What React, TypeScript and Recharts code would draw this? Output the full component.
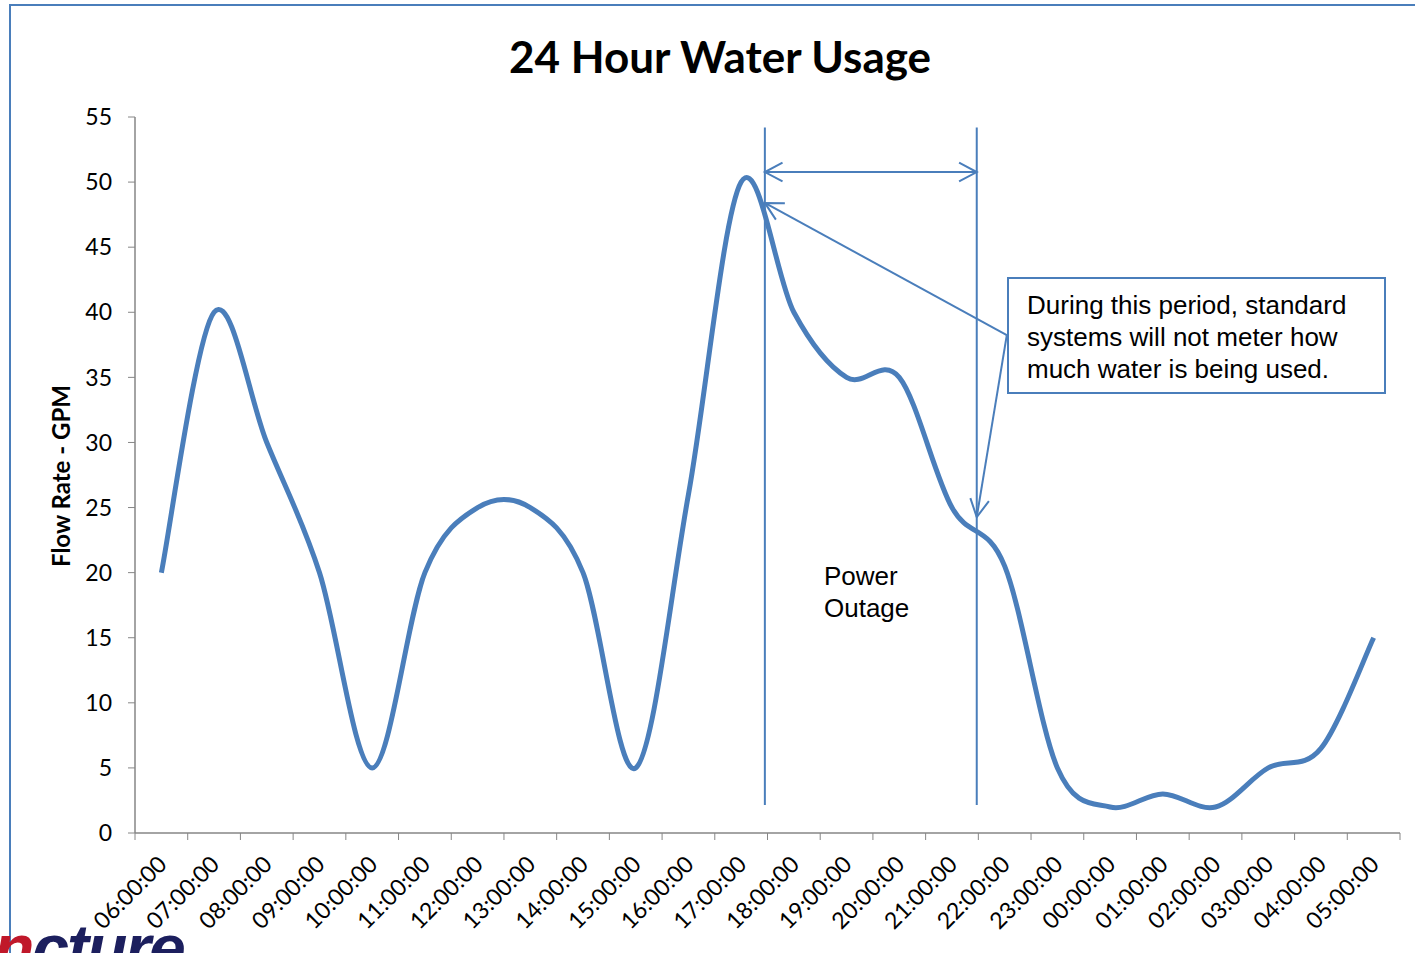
import React from 'react';
import { LineChart, Line, XAxis, YAxis, ReferenceLine } from 'recharts';

const HOURS = [
  '06:00:00', '07:00:00', '08:00:00', '09:00:00', '10:00:00', '11:00:00',
  '12:00:00', '13:00:00', '14:00:00', '15:00:00', '16:00:00', '17:00:00',
  '18:00:00', '19:00:00', '20:00:00', '21:00:00', '22:00:00', '23:00:00',
  '00:00:00', '01:00:00', '02:00:00', '03:00:00', '04:00:00', '05:00:00',
];
const FLOW = [20, 40, 30, 20, 5, 20, 25, 25, 20, 5, 26, 50, 40, 35, 35, 25, 20.5, 5, 2, 3, 2, 5, 6.5, 15];
const Y_TICKS = [0, 5, 10, 15, 20, 25, 30, 35, 40, 45, 50, 55];
const X_BOUNDARIES = Array.from({ length: 25 }, (_, i) => i);

const data = HOURS.map((h, i) => ({ x: i + 0.5, hour: h, flow: FLOW[i] }));

const BLUE = '#4a7ebb';
const AXIS_GRAY = '#868686';
const BAND = 1265 / 24;

// Excel-like smoothing (Catmull-Rom through the points)
function excelSmooth(context: any) {
  let pts: number[][] = [];
  return {
    areaStart() {},
    areaEnd() {},
    lineStart() { pts = []; },
    point(x: number, y: number) { pts.push([+x, +y]); },
    lineEnd() {
      const n = pts.length;
      if (!n) return;
      context.moveTo(pts[0][0], pts[0][1]);
      for (let i = 0; i < n - 1; i++) {
        const p0 = pts[Math.max(i - 1, 0)];
        const p1 = pts[i];
        const p2 = pts[i + 1];
        const p3 = pts[Math.min(i + 2, n - 1)];
        const c1x = p1[0] + (p2[0] - p0[0]) / 6;
        const c1y = p1[1] + (p2[1] - p0[1]) / 6;
        const c2x = p2[0] - (p3[0] - p1[0]) / 6;
        const c2y = p2[1] - (p3[1] - p1[1]) / 6;
        context.bezierCurveTo(c1x, c1y, c2x, c2y, p2[0], p2[1]);
      }
    },
  };
}

function head(px: number, py: number, fx: number, fy: number, key: string) {
  const dx = px - fx;
  const dy = py - fy;
  const len = Math.hypot(dx, dy) || 1;
  const ux = dx / len;
  const uy = dy / len;
  const L = 20;
  const a = (28 * Math.PI) / 180;
  const w1x = px - L * (ux * Math.cos(a) - uy * Math.sin(a));
  const w1y = py - L * (ux * Math.sin(a) + uy * Math.cos(a));
  const w2x = px - L * (ux * Math.cos(-a) - uy * Math.sin(-a));
  const w2y = py - L * (ux * Math.sin(-a) + uy * Math.cos(-a));
  return (
    <polyline key={key} points={`${w1x},${w1y} ${px},${py} ${w2x},${w2y}`} fill="none" stroke={BLUE} strokeWidth={2} />
  );
}

const arrowShape = (atStart: boolean, atEnd: boolean) => (p: any) => {
  const { x1, y1, x2, y2 } = p;
  return (
    <g>
      <line x1={x1} y1={y1} x2={x2} y2={y2} stroke={BLUE} strokeWidth={2} />
      {atStart && head(x1, y1, x2, y2, 's')}
      {atEnd && head(x2, y2, x1, y1, 'e')}
    </g>
  );
};

const XTick = (props: any) => {
  const { x, y, payload } = props;
  const v = payload.value;
  if (v >= HOURS.length) return <g />;
  const cx = x + BAND / 2;
  return (
    <text
      transform={`translate(${cx - 5},${y + 12}) rotate(-45)`}
      textAnchor="end"
      dy="0.72em"
      fontSize={23}
      fontFamily="Lato, sans-serif"
      fill="#000"
    >
      {HOURS[v]}
    </text>
  );
};

export default function App() {
  return (
    <div style={{ position: 'fixed', left: 0, top: 0, width: 1415, height: 953, overflow: 'hidden', background: '#fff' }}>
      <div style={{ position: 'absolute', left: 9, top: 4, width: 1500, height: 1100, borderTop: `2px solid ${BLUE}`, borderLeft: `2px solid ${BLUE}` }} />
      <div style={{ position: 'absolute', left: 0, top: 0 }}>
        <LineChart width={1415} height={953} data={data} margin={{ top: 117, right: 15, bottom: 40, left: 75 }}>
          <XAxis
            dataKey="x"
            type="number"
            domain={[0, 24]}
            ticks={X_BOUNDARIES}
            interval={0}
            height={80}
            stroke={AXIS_GRAY}
            tickSize={7}
            tickLine={{ stroke: AXIS_GRAY }}
            axisLine={{ stroke: AXIS_GRAY, strokeWidth: 1.5 }}
            tick={<XTick />}
          />
          <YAxis
            type="number"
            domain={[0, 55]}
            ticks={Y_TICKS}
            interval={0}
            width={60}
            tickSize={7}
            tickMargin={16}
            stroke={AXIS_GRAY}
            axisLine={{ stroke: AXIS_GRAY, strokeWidth: 1.5 }}
            tickLine={{ stroke: AXIS_GRAY }}
            tick={{ fill: '#000', fontSize: 23, fontFamily: 'Lato, sans-serif' }}
          />
          <Line
            dataKey="flow"
            type={excelSmooth as any}
            stroke={BLUE}
            strokeWidth={5}
            dot={false}
            activeDot={false}
            isAnimationActive={false}
          />
          <ReferenceLine segment={[{ x: 11.95, y: 2.15 }, { x: 11.95, y: 54.2 }]} stroke={BLUE} strokeWidth={2} />
          <ReferenceLine segment={[{ x: 15.97, y: 2.15 }, { x: 15.97, y: 54.2 }]} stroke={BLUE} strokeWidth={2} />
          <ReferenceLine segment={[{ x: 11.95, y: 50.77 }, { x: 15.97, y: 50.77 }]} shape={arrowShape(true, true)} />
          <ReferenceLine segment={[{ x: 16.54, y: 38.25 }, { x: 11.95, y: 48.4 }]} shape={arrowShape(false, true)} />
          <ReferenceLine segment={[{ x: 16.54, y: 38.25 }, { x: 15.97, y: 24.27 }]} shape={arrowShape(false, true)} />
        </LineChart>
      </div>
      <div style={{ position: 'absolute', left: 720, top: 26, transform: 'translateX(-50%)', whiteSpace: 'nowrap', fontFamily: 'Lato, sans-serif', fontWeight: 700, fontSize: 44, color: '#000', lineHeight: '60px' }}>
        24 Hour Water Usage
      </div>
      <div style={{ position: 'absolute', left: 60, top: 476, transform: 'translate(-50%, -50%) rotate(-90deg)', whiteSpace: 'nowrap', fontFamily: 'Lato, sans-serif', fontWeight: 700, fontSize: 24, color: '#000' }}>
        Flow Rate - GPM
      </div>
      <div style={{ position: 'absolute', left: 1007, top: 277, width: 375, height: 113, border: `2px solid ${BLUE}`, background: '#fff', boxSizing: 'content-box' }}>
        <div style={{ padding: '10px 0 0 18px', fontFamily: '"Liberation Sans", Arial, sans-serif', fontSize: 26, lineHeight: '32px', color: '#000', whiteSpace: 'nowrap' }}>
          During this period, standard<br />systems will not meter how<br />much water is being used.
        </div>
      </div>
      <div style={{ position: 'absolute', left: 824, top: 560, fontFamily: '"Liberation Sans", Arial, sans-serif', fontSize: 26, lineHeight: '32px', color: '#000' }}>
        Power<br />Outage
      </div>
      <div style={{ position: 'absolute', left: -6, top: 908, whiteSpace: 'nowrap', fontFamily: '"Liberation Sans", Arial, sans-serif', fontWeight: 700, fontStyle: 'italic', fontSize: 66, lineHeight: '80px', letterSpacing: -2 }}>
        <span style={{ color: '#c0182a' }}>n</span><span style={{ color: '#1c1f5e' }}>cture</span>
      </div>
    </div>
  );
}
